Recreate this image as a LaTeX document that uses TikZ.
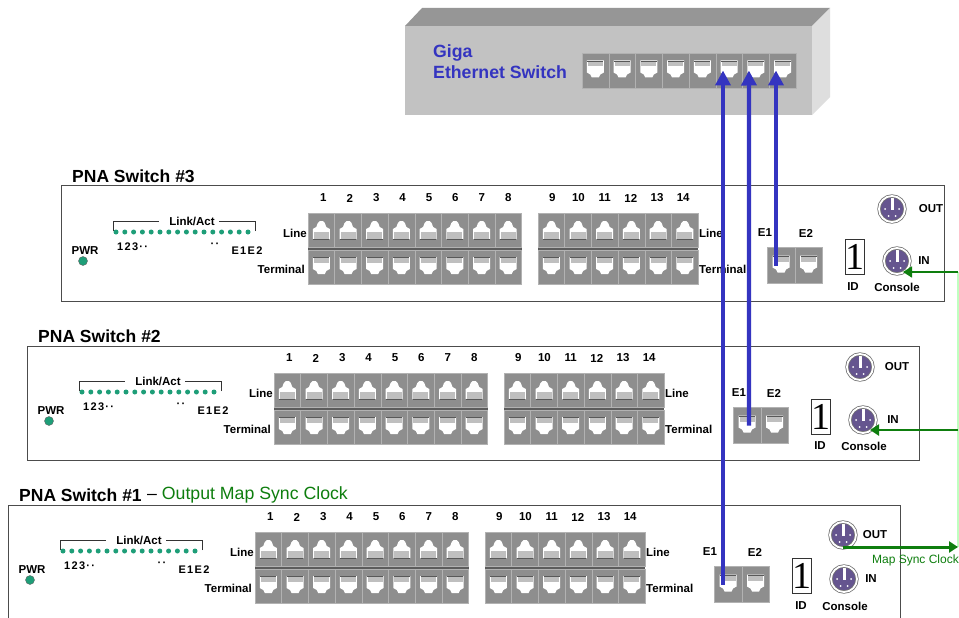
\documentclass[tikz,border=0pt]{standalone}
\usepackage{fontspec}
\setmainfont{Liberation Sans}
\newfontfamily\ledfont[LetterSpace=12]{Liberation Sans}
\newfontfamily\idfont{Liberation Serif}
\usepackage{xcolor}
\usetikzlibrary{positioning, arrows.meta}

\definecolor{portgray}{HTML}{8E8E8E}
\definecolor{gapgray}{HTML}{5C5C5C}
\definecolor{pinblue}{HTML}{3434C0}
\definecolor{ledgreen}{HTML}{1E9E78}
\definecolor{syncgreen}{HTML}{0E7E0E}
\definecolor{dinpurple}{HTML}{65558F}

\begin{document}
\begin{tikzpicture}[
    x=1pt, y=-1pt,
    swbox/.style={draw=black!70, line width=0.9pt, anchor=north west, inner sep=0},
    lbl/.style={font=\bfseries\fontsize{11.5}{13}\selectfont, inner sep=0},
    titlelbl/.style={font=\bfseries\fontsize{17.5}{20}\selectfont, inner sep=0, anchor=west},
    gigalbl/.style={font=\bfseries\fontsize{17.7}{20}\selectfont, inner sep=0, anchor=west, text=pinblue},
    ledlbl/.style={font=\ledfont\bfseries\fontsize{11}{13}\selectfont, inner sep=0},
    led/.style={circle, fill=ledgreen, inner sep=0, minimum size=5pt},
    pwrled/.style={circle, fill=ledgreen, draw=black!60, line width=0.4pt, inner sep=0, minimum size=9pt},
    jackport/.style={fill=portgray, draw=black!30, line width=0.4pt, inner sep=0, minimum width=26.7pt, minimum height=34pt},
    jackup/.style={jackport, path picture={
        \begin{scope}[shift={(path picture bounding box.center)}]
        \fill[white] (-8.5,9) -- (-8.5,-1) -- (-5,-3) -- (-3.5,-7) -- (-1.5,-9) -- (1.5,-9) -- (3.5,-7) -- (5,-3) -- (8.5,-1) -- (8.5,9) -- cycle;
        \fill[black!25] (-7.5,2) rectangle (7.5,8.5);
        \draw[black!65, line width=0.5pt] (-8,8.8) -- (8,8.8);
        \end{scope}}},
    jackdown/.style={jackport, path picture={
        \begin{scope}[shift={(path picture bounding box.center)}]
        \fill[white] (-8.5,-10) -- (-8.5,2) -- (-5,4) -- (-3.5,7) -- (3.5,7) -- (5,4) -- (8.5,2) -- (8.5,-10) -- cycle;
        \fill[black!25] (-7.5,-9) rectangle (7.5,-4);
        \draw[black!65, line width=0.5pt] (-8,-9.6) -- (8,-9.6);
        \end{scope}}},
    din/.style={circle, fill=dinpurple, draw=black!55, double=white, double distance=1.8pt, line width=0.8pt, inner sep=0, minimum size=26pt, path picture={
        \fill[white] ([xshift=-1.5pt,yshift=14pt]path picture bounding box.center) rectangle ([xshift=1.5pt,yshift=-1pt]path picture bounding box.center);
        \foreach \px/\py in {-7/0,7/0,-3.5/-7,3.5/-7}
          \fill[white] ([xshift=\px pt,yshift=\py pt]path picture bounding box.center) circle (1pt);}},
    idbox/.style={draw=black!80, line width=0.6pt, fill=white, inner sep=0, minimum width=18pt, minimum height=35pt, font=\idfont\fontsize{38}{38}\selectfont},
    bluelink/.style={draw=pinblue, line width=4.4pt, -{Triangle[length=15pt, width=15pt]}},
    synclink/.style={draw=syncgreen, line width=#1, -{Triangle[length=9pt, width=11pt]}},
]
\clip (0,0) rectangle (959,618);
\fill[white] (0,0) rectangle (959,618);

% gigabit switch
\fill[black!41] (405,26) -- (422,8) -- (830,8) -- (812,26) -- cycle;
\fill[black!13] (812,26) -- (830,8) -- (830,97) -- (812,115) -- cycle;
\node[fill=black!24, inner sep=0, minimum width=407pt, minimum height=89pt, anchor=north west] (gigafront) at (405,26) {};
\node[gigalbl] (giganame) at (433,53) {Giga};
\node[gigalbl] (gigaeth) at (433,72) {Ethernet Switch};
\foreach \i in {1,...,8}
  \node[jackdown, minimum height=35pt] (gig\i) at (568.6+26.75*\i,70.5) {};

% the three PNA switches
\foreach \sw/\dx/\dy/\bx/\by/\bw/\bh in {3/0/0/61/185/883/116, 2/-34/160/27/346/892/114, 1/-53/319/8/505/892/125} {
  \node[swbox, minimum width=\bw pt, minimum height=\bh pt] (box\sw) at (\bx,\by) {};
  \begin{scope}[shift={(\dx,\dy)}]
  \node[titlelbl] (title\sw) at (72,176) {PNA Switch \#\sw};
  \node[lbl] (pwr\sw) at (85,251) {PWR};
  \node[pwrled] (pwrled\sw) at (83,261) {};
  \foreach \i in {1,...,16}
    \node[led] (led\sw-\i) at (107.2+8.8*\i,232) {};
  \node[lbl] (linkact\sw) at (192,221) {Link/Act};
  \draw[black!80, line width=0.6pt] (113.5,231) |- ([xshift=-10pt]linkact\sw.west);
  \draw[black!80, line width=0.6pt] (255,231) |- ([xshift=4pt]linkact\sw.east);
  \node[ledlbl, anchor=west] (ledfirst\sw) at (117,247) {123··};
  \node[ledlbl] (ledgap\sw) at (215,245) {··};
  \node[ledlbl] (ledlast\sw) at (247,251) {E1E2};
  \fill[gapgray] (308,247) rectangle (522,250);
  \fill[gapgray] (538,247) rectangle (698,250);
  \foreach \i in {1,...,8} {
    \node[lbl] (num\sw-\i) at (297+26.4*\i,198) {\i};
    \node[jackup] (line\sw-\i) at (294.6+26.7*\i,230) {};
    \node[jackdown] (term\sw-\i) at (294.6+26.7*\i,267) {};
  }
  \foreach \i/\n in {1/9,2/10,3/11,4/12,5/13,6/14} {
    \node[lbl] (num\sw-\n) at (526+26.2*\i,198) {\n};
    \node[jackup] (line\sw-\n) at (524.6+26.7*\i,230) {};
    \node[jackdown] (term\sw-\n) at (524.6+26.7*\i,267) {};
  }
  \node[lbl, anchor=east] (linea\sw) at (307,233) {Line};
  \node[lbl, anchor=east] (terma\sw) at (305,269) {Terminal};
  \node[lbl, anchor=west] (lineb\sw) at (699,233) {Line};
  \node[lbl, anchor=west] (termb\sw) at (699,269) {Terminal};
  \node[jackdown, minimum width=27.5pt, minimum height=36pt] (eport\sw-1) at (781,265.5) {};
  \node[jackdown, minimum width=27.5pt, minimum height=36pt] (eport\sw-2) at (808.5,265.5) {};
  \node[idbox] (id\sw) at (855,257) {1};
  \end{scope}
}

% console side, placed by hand per switch
\foreach \sw/\ex/\fx/\ey/\ox/\oy/\olx/\ix/\iy/\ilx/\cx/\cy/\idx in {3/765/806/233/892/209/931/897/261/924/897/287/853, 2/739/774/393/860/367/897/863/420/893/864/446/820, 1/710/755/552/843/535/875/844/579/871/845/606/801} {
  \node[lbl] (efirst\sw) at (\ex,\ey) {E1};
  \node[lbl] (esecond\sw) at (\fx,\ey) {E2};
  \node[din] (out\sw) at (\ox,\oy) {};
  \node[din] (in\sw) at (\ix,\iy) {};
  \node[lbl] (outl\sw) at (\olx,\oy) {OUT};
  \node[lbl] (inl\sw) at (\ilx,\iy) {IN};
  \node[lbl] (console\sw) at (\cx,\cy) {Console};
  \node[lbl] (idl\sw) at (\idx,\cy) {ID};
}

\node[titlelbl, font=\fontsize{17.7}{20}\selectfont, right=5pt of title1] (syncname) {-- \textcolor{syncgreen}{Output Map Sync Clock}};
\node[inner sep=0, anchor=east, text=syncgreen, font=\fontsize{12}{14}\selectfont] (maplbl) at (959,560) {Map  Sync Clock};

% clock wiring
\coordinate (risetop) at (958,272);
\coordinate (risemid) at (958,430);
\coordinate (risebot) at (958,547);
\draw[draw=green!25!white, line width=2pt] (risetop) -- (risebot);
\draw[synclink=2.4pt] (risemid) -- ([xshift=7pt,yshift=-10pt]in2.center);
\draw[synclink=1.6pt] (risetop) -- ([xshift=6pt,yshift=-11pt]in3.center);
\draw[synclink=3pt] ([yshift=-12pt]out1.center) -- (risebot);

% uplinks
\draw[bluelink] ([xshift=-5pt]eport1-1.center) -- ([xshift=-6.1pt]gig6.center);
\draw[bluelink] ([xshift=2pt]eport2-1.center) -- ([xshift=-6.9pt]gig7.center);
\draw[bluelink] ([xshift=-5pt]eport3-1.center) -- ([xshift=-6.6pt]gig8.center);
\end{tikzpicture}
\end{document}
